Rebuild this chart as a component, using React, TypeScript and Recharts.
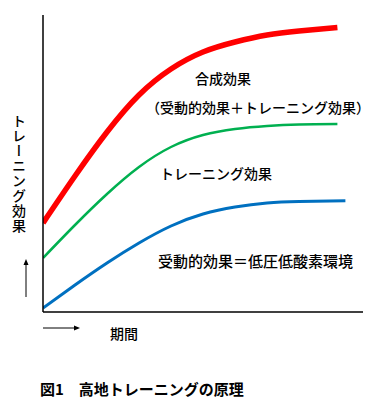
import React from 'react';
import { LineChart, Line, XAxis, YAxis } from 'recharts';

const redData = [
  { t: 0, v: 89 }, { t: 1, v: 136 }, { t: 2, v: 180 }, { t: 3, v: 217 }, { t: 4, v: 243 },
  { t: 5, v: 260 }, { t: 6, v: 270 }, { t: 7, v: 277 }, { t: 8, v: 281 }, { t: 9.2, v: 284.5 },
];
const greenData = [
  { t: 0, v: 54 }, { t: 1, v: 87 }, { t: 2, v: 118 }, { t: 3, v: 145 }, { t: 4, v: 165 },
  { t: 5, v: 177 }, { t: 6, v: 183 }, { t: 7, v: 186 }, { t: 8, v: 187.5 }, { t: 9.2, v: 188 },
];
const blueData = [
  { t: 0, v: 4 }, { t: 1, v: 27 }, { t: 2, v: 49 }, { t: 3, v: 69 }, { t: 4, v: 86 },
  { t: 5, v: 98 }, { t: 6, v: 105 }, { t: 7, v: 109 }, { t: 8, v: 110.5 }, { t: 9.45, v: 111.2 },
];

const combinedLabel = '合成効果';
const combinedSub = '（受動的効果＋トレーニング効果）';
const trainingLabel = 'トレーニング効果';
const passiveLabel = '受動的効果＝低圧低酸素環境';
const yLabel = 'トレーニング効果';
const xLabel = '期間';
const caption = '図1　高地トレーニングの原理';

const font = '"Noto Sans CJK JP", "Noto Sans", sans-serif';

export default function App() {
  return (
    <div style={{ position: 'absolute', left: 0, top: 0, width: 382, height: 408, background: '#fff' }}>
      <LineChart
        width={382}
        height={408}
        margin={{ top: 15, right: 19, bottom: 95, left: 42 }}
      >
        <XAxis type="number" dataKey="t" domain={[0, 10]} height={1} tick={false} tickLine={false}
          axisLine={{ stroke: '#000', strokeWidth: 1.5 }} allowDataOverflow />
        <YAxis type="number" dataKey="v" domain={[0, 297]} width={1} tick={false} tickLine={false}
          axisLine={{ stroke: '#000', strokeWidth: 1.5 }} allowDataOverflow />
        <Line data={blueData} dataKey="v" type="natural" stroke="#0070c0" strokeWidth={3} dot={false} isAnimationActive={false} />
        <Line data={greenData} dataKey="v" type="natural" stroke="#00b050" strokeWidth={2.5} dot={false} isAnimationActive={false} />
        <Line data={redData} dataKey="v" type="natural" stroke="#ff0000" strokeWidth={5.5} dot={false} isAnimationActive={false} />
      </LineChart>
      <svg width={382} height={408} style={{ position: 'absolute', left: 0, top: 0, pointerEvents: 'none' }}
        fontFamily={font} fill="#000">
        <text x={195} y={78} fontSize={14} fontWeight={500} dominantBaseline="central">{combinedLabel}</text>
        <text x={146} y={107} fontSize={14} fontWeight={500} dominantBaseline="central">{combinedSub}</text>
        <text x={160} y={173} fontSize={14} fontWeight={500} dominantBaseline="central">{trainingLabel}</text>
        <text x={158} y={260} fontSize={15} fontWeight={500} dominantBaseline="central">{passiveLabel}</text>
        <text x={19} y={114} fontSize={14} fontWeight={500} style={{ writingMode: 'vertical-rl', letterSpacing: 1 }}>{yLabel}</text>
        <text x={110} y={333} fontSize={14} fontWeight={500} dominantBaseline="central">{xLabel}</text>
        <text x={40} y={388} fontSize={15} fontWeight="bold" dominantBaseline="central">{caption}</text>
        <line x1={26} y1={297} x2={26} y2={264} stroke="#000" strokeWidth={1} />
        <polygon points="26,259 23.5,265 28.5,265" fill="#000" />
        <line x1={43} y1={328} x2={75} y2={328} stroke="#000" strokeWidth={1} />
        <polygon points="80,328 74,325.5 74,330.5" fill="#000" />
      </svg>
    </div>
  );
}
